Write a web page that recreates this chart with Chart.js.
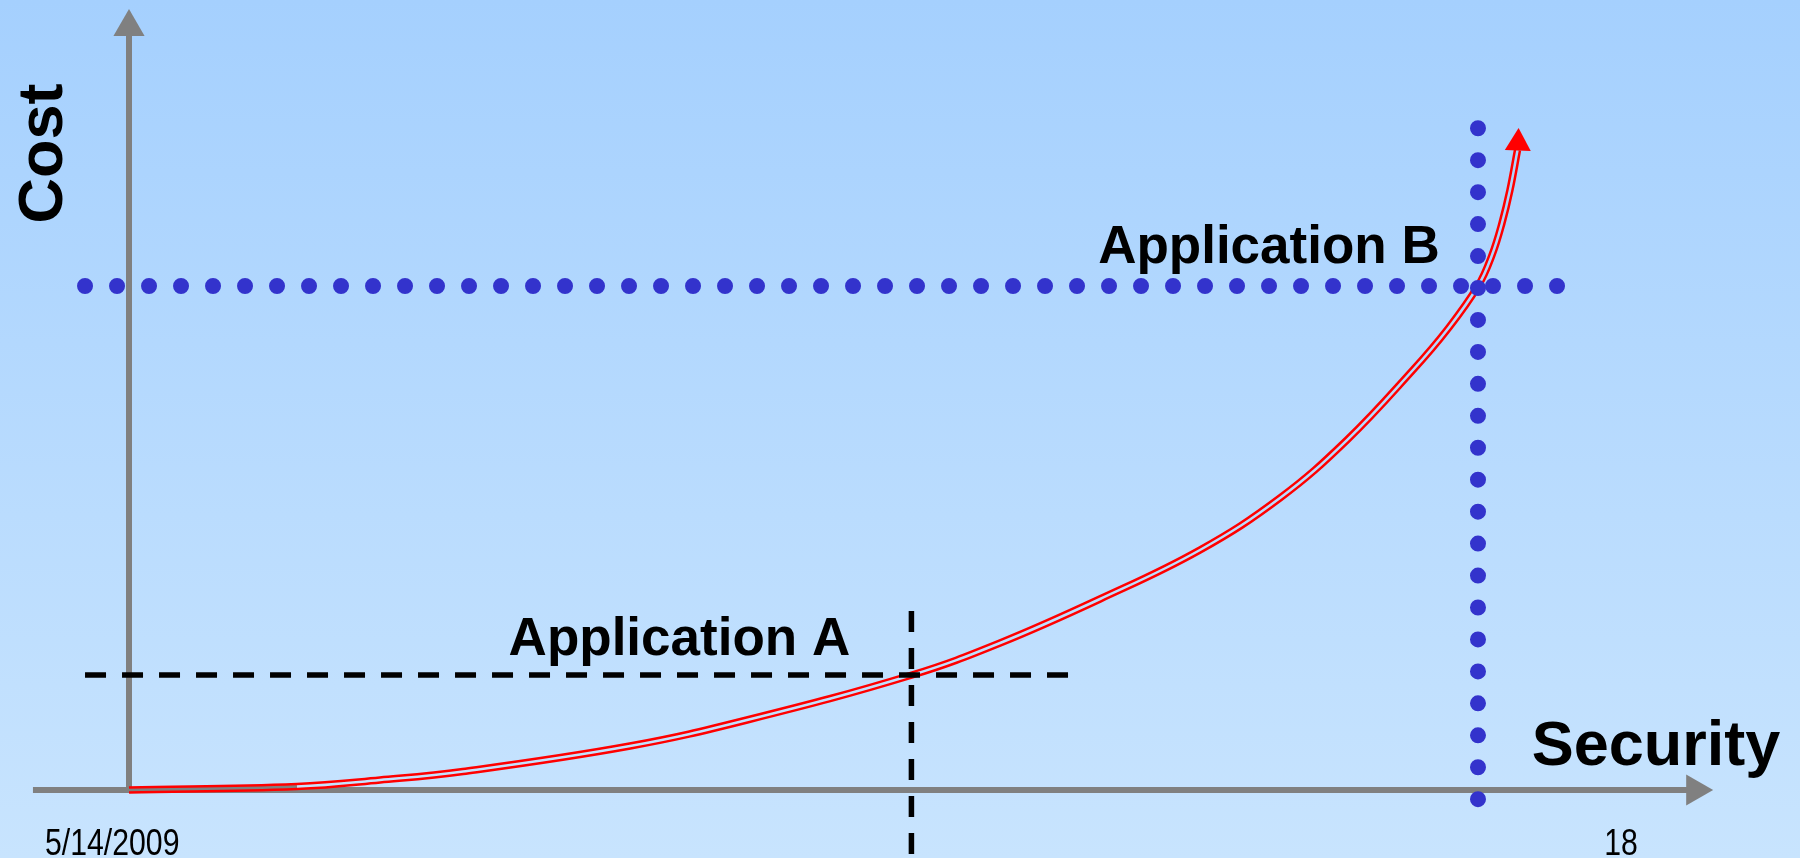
<!DOCTYPE html>
<html>
  <head>
    <title>Cost vs Security</title>
    <script src="https://cdn.jsdelivr.net/npm/chart.js@4.4.1/dist/chart.umd.min.js"></script>
    <style>
      html, body { margin: 0; padding: 0; }
      body {
        width: 1800px;
        height: 858px;
        overflow: hidden;
        background: linear-gradient(to bottom, #a5d0fe 0%, #c8e4fe 100%);
      }
      #wrap { position: relative; width: 1800px; height: 858px; }
    </style>
  </head>

  <body>
    <div id="wrap"><canvas id="myChart"></canvas></div>
    <script>
      // cost curve
      const security = [0, 12.45, 18.61, 24.76, 37.14, 45.81, 58.04, 64.57, 71.98, 79.39, 85.32, 90.29, 95.18, 97.70, 100, 101.04, 101.78, 102.37, 102.93];
      const cost = [0, 0.69, 1.98, 3.67, 8.73, 13.89, 22.82, 29.17, 37.90, 47.62, 57.94, 69.44, 83.33, 91.27, 100, 106.15, 112.50, 119.05, 126.98];

      const apps = ['Application A', 'Application B'];
      const appSecurity = [58.0, 100];
      const appCost = [22.8, 100];

      const axisTitles = ['Security', 'Cost'];
      const footer = ['5/14/2009', '18'];

      const GREY = '#808080';
      const DOT = '#3333cc';

      const curve = security.map((s, i) => ({ x: s, y: cost[i] }));

      // gap of the double red line takes the slide background
      const gapColor = c => {
        const g = c.chart.ctx.createLinearGradient(0, 0, 0, c.chart.height);
        g.addColorStop(0, '#a5d0fe');
        g.addColorStop(1, '#c8e4fe');
        return g;
      };

      const labelPlugin = {
        id: 'slideText',
        afterDatasetsDraw(chart) {
          const { ctx, scales: { x, y } } = chart;
          ctx.save();
          ctx.fillStyle = '#000';
          ctx.textBaseline = 'alphabetic';
          ctx.textAlign = 'center';
          ctx.font = 'bold 53px "Liberation Sans", Arial, sans-serif';
          ctx.fillText(apps[0], x.getPixelForValue(40.8), y.getPixelForValue(26.8));
          ctx.fillText(apps[1], x.getPixelForValue(84.5), y.getPixelForValue(104.6));

          ctx.font = 'bold 63px "Liberation Sans", Arial, sans-serif';
          ctx.fillText(axisTitles[0], x.getPixelForValue(113.2), y.getPixelForValue(4.96));
          ctx.save();
          ctx.translate(x.getPixelForValue(-4.97), y.getPixelForValue(126.3));
          ctx.rotate(-Math.PI / 2);
          ctx.fillText(axisTitles[1], 0, 0);
          ctx.restore();

          // narrow footer font, squeezed like Arial Narrow
          ctx.font = '36px "Liberation Sans", Arial, sans-serif';
          const narrow = (txt, px, py, align) => {
            ctx.save();
            ctx.translate(px, py);
            ctx.scale(0.84, 1);
            ctx.textAlign = align;
            ctx.fillText(txt, 0, 0);
            ctx.restore();
          };
          narrow(footer[0], x.getPixelForValue(-6.23), y.getPixelForValue(-12.9), 'left');
          narrow(footer[1], x.getPixelForValue(110.6), y.getPixelForValue(-12.9), 'center');
          ctx.restore();
        }
      };

      const line = (data, extra) => Object.assign({
        data,
        showLine: true,
        pointRadius: 0,
        tension: 0,
        clip: false,
        fill: false
      }, extra);

      const head = (pt, color, r, rot, order) => ({
        data: [pt],
        showLine: false,
        pointStyle: 'triangle',
        pointRadius: r,
        pointRotation: rot,
        backgroundColor: color,
        borderColor: color,
        pointBorderWidth: 0,
        clip: false,
        order
      });

      var ctx = document.getElementById('myChart');
      var myChart = new Chart(ctx, {
        type: 'scatter',
        data: {
          datasets: [
            // Application A guides
            line([{ x: -3.26, y: appCost[0] }, { x: 70.3, y: appCost[0] }],
              { borderColor: '#000', borderWidth: 5.5, borderDash: [21, 16], order: 1 }),
            line([{ x: appSecurity[0], y: 35.5 }, { x: appSecurity[0], y: -13.5 }],
              { borderColor: '#000', borderWidth: 5.5, borderDash: [21, 16], order: 1 }),
            // Application B guides (round dots)
            line([{ x: -3.26, y: appCost[1] }, { x: 105.86, y: appCost[1] }],
              { borderColor: DOT, borderWidth: 16, borderDash: [0, 32], borderCapStyle: 'round', order: 2 }),
            line([{ x: appSecurity[1], y: 131.3 }, { x: appSecurity[1], y: -8.13 }],
              { borderColor: DOT, borderWidth: 16, borderDash: [0, 31.95], borderCapStyle: 'round', order: 2 }),
            // the cost curve
            head({ x: 102.97, y: 128.37 }, '#ff0000', 15, 2, 10),
            line(curve, {
              borderColor: gapColor,
              borderWidth: 2.5,
              tension: 0.4,
              segment: { borderColor: c => c.p0DataIndex === 0 ? GREY : undefined },
              order: 11
            }),
            line(curve, {
              borderColor: '#ff0000',
              borderWidth: 7.5,
              tension: 0.4,
              order: 12
            }),
            // axes
            head({ x: 0, y: 151.4 }, GREY, 18, 0, 20),
            head({ x: 116.1, y: 0 }, GREY, 18, 90, 20),
            line([{ x: 0, y: 0 }, { x: 0, y: 149.8 }], { borderColor: GREY, borderWidth: 6, order: 21 }),
            line([{ x: -7.12, y: 0 }, { x: 115.6, y: 0 }], { borderColor: GREY, borderWidth: 6, order: 21 })
          ]
        },
        options: {
          responsive: true,
          maintainAspectRatio: false,
          animation: false,
          events: [],
          layout: { padding: 0, autoPadding: false },
          plugins: {
            legend: { display: false },
            tooltip: { enabled: false }
          },
          scales: {
            x: { type: 'linear', min: -9.563, max: 123.87, display: false },
            y: { type: 'linear', min: -13.49, max: 156.75, display: false }
          }
        },
        plugins: [labelPlugin]
      });
    </script>
  </body>
</html>
